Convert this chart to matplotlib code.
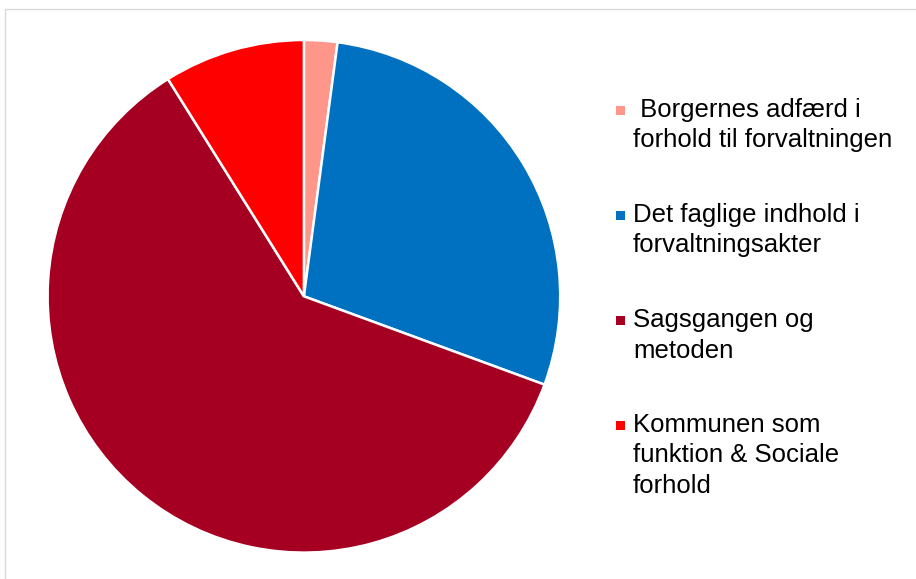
import matplotlib.pyplot as plt
from matplotlib.patches import Rectangle

labels = [" Borgernes adfærd i\nforhold til forvaltningen",
          "Det faglige indhold i\nforvaltningsakter",
          "Sagsgangen og\nmetoden",
          "Kommunen som\nfunktion & Sociale\nforhold"]
shares = [2.1, 28.5, 60.5, 8.9]
colors = ["#FF968A", "#0070C0", "#A50021", "#FF0000"]

plt.rcParams['font.family'] = ['Liberation Sans', 'DejaVu Sans']

W, H = 916, 579
fig = plt.figure(figsize=(W / 100, H / 100), dpi=100)
fig.patches.append(Rectangle((4.5 / W, -0.1), 1.2, 1 - 8.5 / H + 0.1,
                             transform=fig.transFigure, fill=False,
                             edgecolor="#D9D9D9", linewidth=1))

ax = fig.add_axes([47.6 / W, 26.4 / H, 512.6 / W, 512.6 / H])
wedges, _ = ax.pie(shares, colors=colors, startangle=90, counterclock=False,
                   wedgeprops=dict(edgecolor="white", linewidth=1.8))
ax.set_xlim(-1, 1)
ax.set_ylim(-1, 1)
ax.set_aspect("equal")

# legend drawn by hand: key square next to the first line of each label
line_h = 30.5
step = 105
base = 117
for lab, col in zip(labels, colors):
    fig.patches.append(Rectangle((616 / W, 1 - (base - 2) / H), 9 / W, 9 / H,
                                 transform=fig.transFigure, facecolor=col,
                                 edgecolor="none"))
    for i, ln in enumerate(lab.split("\n")):
        fig.text(633 / W, 1 - (base + i * line_h) / H, ln, fontsize=18.5,
                 va="baseline", ha="left", color="black")
    base += step

fig.savefig("out.png", dpi=100)
